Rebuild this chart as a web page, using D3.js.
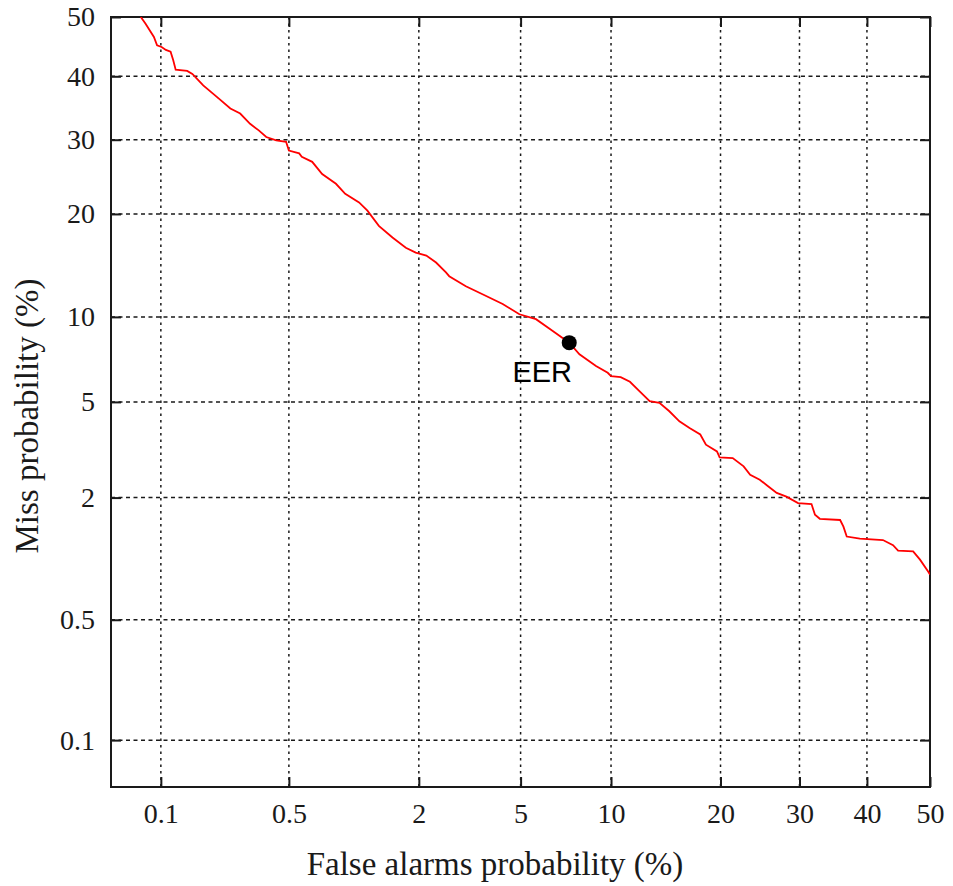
<!DOCTYPE html>
<html>
<head>
<meta charset="utf-8">
<script src="https://cdn.jsdelivr.net/npm/d3@7"></script>
<style>
  html, body { margin: 0; padding: 0; background: #fff; }
  svg { display: block; }
</style>
</head>
<body>
<svg id="chart" width="953" height="886"></svg>
<script>
// ---- Data (percentages) ----
const falseAlarm = [0.076,0.081,0.091,0.095,0.101,0.107,0.114,0.118,0.122,0.142,0.152,0.175,0.213,0.247,0.279,0.315,0.35,0.383,0.431,0.484,0.5,0.563,0.58,0.653,0.73,0.85,0.94,1.09,1.19,1.34,1.54,1.76,1.94,2.15,2.36,2.59,2.67,3.11,3.61,4.30,4.95,5.67,6.48,7.36,7.95,8.98,9.77,10.0,10.7,11.4,12.15,13.0,13.85,14.75,15.7,16.7,17.8,18.4,19.6,19.9,21.4,22.7,23.5,24.7,25.6,26.9,28.2,29.8,31.7,32.2,32.9,35.9,36.4,36.9,38.9,42.5,44.1,44.9,47.3,48.4,49.7,50];
const missProb = [50,48.9,46.6,45.2,44.9,44.4,44.1,42.7,41.1,40.9,40.4,38.5,36.4,34.8,34.0,32.4,31.4,30.4,29.9,29.7,28.4,28.0,27.5,26.8,25.1,23.8,22.5,21.4,20.4,18.6,17.3,16.2,15.7,15.4,14.7,13.75,13.4,12.5,11.8,11.0,10.2,9.83,8.99,8.2,7.47,6.79,6.42,6.24,6.19,5.95,5.49,5.03,4.96,4.60,4.20,3.95,3.72,3.38,3.17,2.99,2.97,2.74,2.52,2.40,2.27,2.10,2.02,1.89,1.87,1.67,1.60,1.58,1.47,1.32,1.29,1.27,1.20,1.13,1.12,1.02,0.89,0.86];
const eerPoint = [7.36, 8.2];
const eerLabel = "EER";
const xTicks = [0.1, 0.5, 2, 5, 10, 20, 30, 40, 50];
const yTicks = [0.1, 0.5, 2, 5, 10, 20, 30, 40, 50];
const axisDomain = [0.05, 50];
const xTitle = "False alarms probability (%)";
const yTitle = "Miss probability (%)";

// ---- Probit (inverse normal CDF, Acklam) ----
function probit(p) {
  const a=[-3.969683028665376e+01,2.209460984245205e+02,-2.759285104469687e+02,1.383577518672690e+02,-3.066479806614716e+01,2.506628277459239e+00];
  const b=[-5.447609879822406e+01,1.615858368580409e+02,-1.556989798598866e+02,6.680131188771972e+01,-1.328068155288572e+01];
  const c=[-7.784894002430293e-03,-3.223964580411365e-01,-2.400758277161838e+00,-2.549671236460443e+00,4.374664141464968e+00,2.938163982698783e+00];
  const d=[7.784695709041462e-03,3.224671290700398e-01,2.445134137142996e+00,3.754408661907416e+00];
  const pl=0.02425, ph=1-pl; let q,r;
  if (p<pl){q=Math.sqrt(-2*Math.log(p));return (((((c[0]*q+c[1])*q+c[2])*q+c[3])*q+c[4])*q+c[5])/((((d[0]*q+d[1])*q+d[2])*q+d[3])*q+1);}
  if (p<=ph){q=p-0.5;r=q*q;return (((((a[0]*r+a[1])*r+a[2])*r+a[3])*r+a[4])*r+a[5])*q/(((((b[0]*r+b[1])*r+b[2])*r+b[3])*r+b[4])*r+1);}
  q=Math.sqrt(-2*Math.log(1-p));return -(((((c[0]*q+c[1])*q+c[2])*q+c[3])*q+c[4])*q+c[5])/((((d[0]*q+d[1])*q+d[2])*q+d[3])*q+1);
}
function probitScale(lin) {
  const s = v => lin(probit(v / 100));
  s.range = () => lin.range();
  s.domain = () => axisDomain;
  s.copy = () => probitScale(lin.copy());
  return s;
}

// ---- Layout ----
const L = 111, R = 930, T = 17, B = 787;
const x = probitScale(d3.scaleLinear().domain([probit(axisDomain[0]/100), probit(axisDomain[1]/100)]).range([L, R]));
const y = probitScale(d3.scaleLinear().domain([probit(axisDomain[0]/100), probit(axisDomain[1]/100)]).range([B, T]));

const svg = d3.select("#chart");
const ink = "#1a1a1a";
const serif = "'Liberation Serif', 'DejaVu Serif', serif";

svg.append("defs").append("clipPath").attr("id", "plotclip")
  .append("rect").attr("x", L).attr("y", T).attr("width", R - L).attr("height", B - T);

// Grid
const grid = svg.append("g");
grid.selectAll(".hg").data(yTicks.filter(v => v < 50)).join("line")
  .attr("x1", L).attr("x2", R).attr("y1", d => y(d)).attr("y2", d => y(d))
  .attr("stroke", ink).attr("stroke-width", 1.5).attr("stroke-dasharray", "4,3.5");
grid.selectAll(".vg").data(xTicks.filter(v => v < 50)).join("line")
  .attr("y1", T).attr("y2", B).attr("x1", d => x(d)).attr("x2", d => x(d))
  .attr("stroke", ink).attr("stroke-width", 1.5).attr("stroke-dasharray", "2.5,4");

// Axes (ticks inward)
const tickLen = 10;
const gx = svg.append("g").attr("transform", `translate(0,${B})`)
  .call(d3.axisBottom(x).tickValues(xTicks).tickSize(-tickLen).tickPadding(16).tickFormat(d => String(d)));
const gxTop = svg.append("g").attr("transform", `translate(0,${T})`)
  .call(d3.axisTop(x).tickValues(xTicks).tickSize(-tickLen).tickFormat(""));
const gy = svg.append("g").attr("transform", `translate(${L},0)`)
  .call(d3.axisLeft(y).tickValues(yTicks).tickSize(-tickLen).tickPadding(16).tickFormat(d => String(d)));
const gyR = svg.append("g").attr("transform", `translate(${R},0)`)
  .call(d3.axisRight(y).tickValues(yTicks).tickSize(-tickLen).tickFormat(""));

[gx, gxTop, gy, gyR].forEach(g => {
  g.select(".domain").remove();
  g.selectAll(".tick line").attr("stroke", ink).attr("stroke-width", 2);
  g.selectAll(".tick text").attr("fill", ink).attr("font-family", serif).attr("font-size", 28);
});

// Frame
svg.append("rect").attr("x", L).attr("y", T).attr("width", R - L).attr("height", B - T)
  .attr("fill", "none").attr("stroke", ink).attr("stroke-width", 2);

// Curve
const pts = falseAlarm.map((f, i) => [f, missProb[i]]);
svg.append("path").datum(pts)
  .attr("clip-path", "url(#plotclip)")
  .attr("fill", "none").attr("stroke", "#ff0000").attr("stroke-width", 1.8)
  .attr("stroke-linejoin", "miter")
  .attr("d", d3.line().x(d => x(d[0])).y(d => y(d[1])));

// EER marker
svg.append("circle").attr("cx", x(eerPoint[0])).attr("cy", y(eerPoint[1])).attr("r", 7.5).attr("fill", "#000");
svg.append("text").attr("x", x(eerPoint[0]) - 27).attr("y", y(eerPoint[1]) + 39)
  .attr("text-anchor", "middle").attr("font-family", "'Liberation Sans', Arial, sans-serif")
  .attr("font-size", 29).attr("fill", "#000").text(eerLabel);

// Titles
svg.append("text").attr("x", 495).attr("y", 875).attr("text-anchor", "middle")
  .attr("font-family", serif).attr("font-size", 33).attr("fill", ink).text(xTitle);
svg.append("text").attr("transform", "translate(38,416) rotate(-90)").attr("text-anchor", "middle")
  .attr("font-family", serif).attr("font-size", 33).attr("fill", ink).text(yTitle);
</script>
</body>
</html>
